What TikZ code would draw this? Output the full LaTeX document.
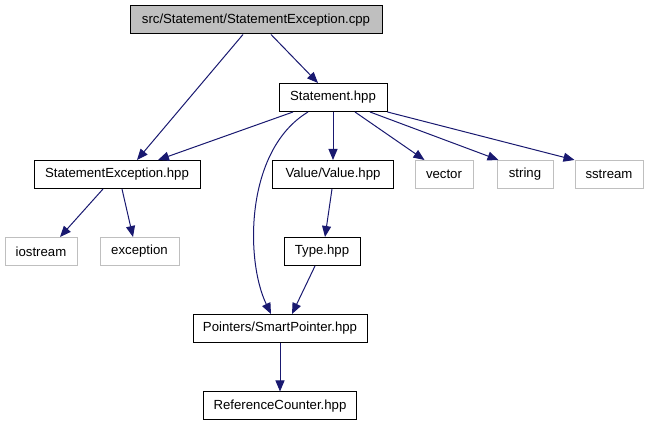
\documentclass[tikz,border=0pt]{standalone}
\usepackage{fontspec}
\setmainfont{Liberation Sans}
\usetikzlibrary{arrows.meta}
\definecolor{edgeblue}{HTML}{191970}
\definecolor{graybox}{HTML}{BFBFBF}
\tikzset{
  filebox/.style={draw=black, line width=1pt, fill=white, minimum height=28pt, inner sep=0pt, font=\fontsize{13.2}{15}\selectfont},
  extbox/.style={draw=graybox, line width=1pt, fill=white, minimum height=28pt, inner sep=0pt, font=\fontsize{13.2}{15}\selectfont},
  rootbox/.style={filebox, fill=graybox},
  dep/.style={draw=edgeblue, line width=1pt, -{Triangle[length=11pt,width=9pt]}, color=edgeblue}
}
\begin{document}
\begin{tikzpicture}[x=1pt,y=-1pt]
\useasboundingbox (0,0) rectangle (651,427);
\node[rootbox, minimum width=252pt] (cpp) at (256,20) {src/Statement/StatementException.cpp};
\node[filebox, minimum width=108pt] (stmt) at (333,97.5) {Statement.hpp};
\node[filebox, minimum width=166pt] (sexc) at (117,174.5) {StatementException.hpp};
\node[filebox, minimum width=121pt] (value) at (333,174.5) {Value/Value.hpp};
\node[extbox, minimum width=58pt] (vector) at (444,174.5) {vector};
\node[extbox, minimum width=56pt] (string) at (525,174.5) {string};
\node[extbox, minimum width=68pt] (sstream) at (609,174.5) {sstream};
\node[extbox, minimum width=72pt] (iostream) at (41,251.5) {iostream};
\node[extbox, minimum width=79pt] (exception) at (139.5,251.5) {exception};
\node[filebox, minimum width=76pt] (type) at (322,251.5) {Type.hpp};
\node[filebox, minimum width=174pt] (smart) at (280,328.5) {Pointers/SmartPointer.hpp};
\node[filebox, minimum width=153pt] (ref) at (280,406) {ReferenceCounter.hpp};

\draw[dep] ([xshift=15pt]cpp.south) -- ([xshift=-15pt]stmt.north);
\draw[dep] ([xshift=-13pt]cpp.south) -- ([xshift=20pt]sexc.north);
\draw[dep] ([xshift=-40pt]stmt.south) -- ([xshift=41pt]sexc.north);
\draw[dep] ([xshift=-25pt]stmt.south) .. controls (245,150) and (245,260) .. ([xshift=-9pt]smart.north);
\draw[dep] (stmt.south) -- (value.north);
\draw[dep] ([xshift=22pt]stmt.south) -- ([xshift=10pt]vector.north west);
\draw[dep] ([xshift=37pt]stmt.south) -- ([xshift=2pt]string.north west);
\draw[dep] (stmt.south east) -- (sstream.north west);
\draw[dep] ([xshift=-14pt]sexc.south) -- ([xshift=19pt]iostream.north);
\draw[dep] ([xshift=5pt]sexc.south) -- ([xshift=-6.5pt]exception.north);
\draw[dep] ([xshift=-1pt]value.south) -- ([xshift=3pt]type.north);
\draw[dep] ([xshift=-7pt]type.south) -- ([xshift=12pt]smart.north);
\draw[dep] (smart.south) -- (ref.north);
\end{tikzpicture}
\end{document}
